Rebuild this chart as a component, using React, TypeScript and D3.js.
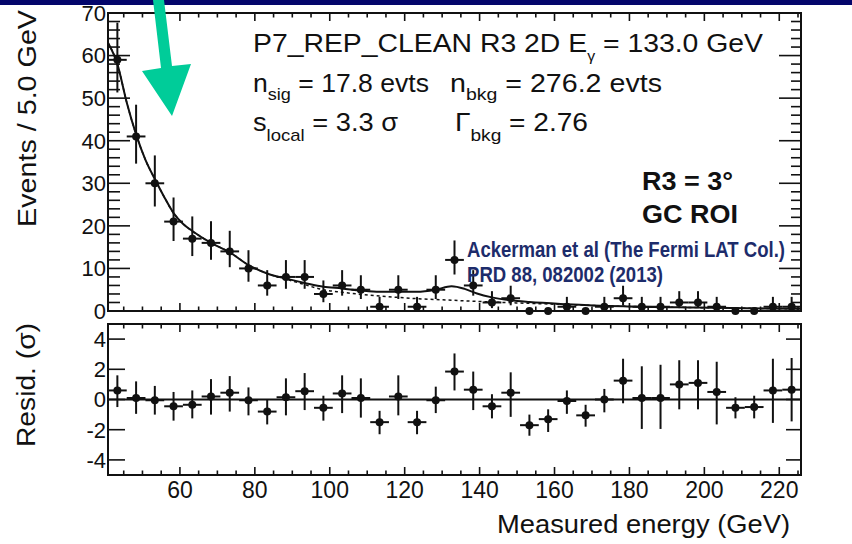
import React from 'react';
import * as d3 from 'd3';

// bin centres (GeV), 5 GeV bins
const energies = [
  43.3, 48.3, 53.3, 58.3, 63.3, 68.3, 73.3, 78.3, 83.3, 88.3, 93.3, 98.3, 103.3,
  108.3, 113.3, 118.3, 123.3, 128.3, 133.3, 138.3, 143.3, 148.3, 153.3, 158.3,
  163.3, 168.3, 173.3, 178.3, 183.3, 188.3, 193.3, 198.3, 203.3, 208.3, 213.3,
  218.3, 223.3,
];
const counts = [
  59, 41, 30, 21, 17, 16, 14, 10, 6, 8, 8, 4, 6, 5, 1, 5, 1, 5, 12, 6, 2, 3, 0, 0,
  1, 0, 1, 3, 1, 1, 2, 2, 1, 0, 0, 1, 1,
];

// residuals (sigma) and the ends of their error bars
const residVal = [
  0.6, 0.1, -0.05, -0.45, -0.35, 0.2, 0.45, -0.05, -0.8, 0.15, 0.55, -0.55, 0.4,
  0.1, -1.5, 0.2, -1.5, -0.05, 1.85, 0.65, -0.45, 0.45, -1.7, -1.3, -0.1, -1.05,
  0.0, 1.25, 0.1, 0.1, 1.0, 1.1, 0.5, -0.55, -0.5, 0.6, 0.65,
];
const residHi = [
  1.6, 1.2, 0.9, 0.5, 0.6, 1.35, 1.55, 0.8, 0.0, 1.4, 1.75, 0.25, 1.6, 1.4, -0.75,
  1.6, -0.75, 0.85, 3.05, 1.85, 0.35, 1.8, -1.0, -0.65, 0.6, -0.35, 0.7, 2.7, 2.2,
  2.3, 2.6, 2.6, 2.5, 0.15, 0.25, 2.7, 2.75,
];
const residLo = [
  -0.5, -0.95, -1.0, -1.4, -1.25, -1.0, -0.8, -1.05, -1.65, -1.05, -0.7, -1.4, -0.9,
  -1.2, -2.3, -1.05, -2.3, -0.9, 0.6, -0.7, -1.25, -1.15, -2.4, -2.15, -0.95, -1.8,
  -0.85, -0.25, -1.95, -1.95, -0.65, -0.65, -1.65, -1.25, -1.25, -1.55, -1.45,
];

// fitted model (signal + background) and background only
const fitE = [
  40.8, 43.3, 45.8, 48.3, 50.8, 53.3, 55.8, 58.3, 60.8, 63.3, 68.3, 73.3, 78.3, 83.3,
  88.3, 93.3, 98.3, 103.3, 108.3, 113.3, 118.3, 123.3, 128.3, 132.5, 136, 139.3,
  143.3, 148.3, 153.3, 163.3, 178.3, 198.3, 225.8,
];
const fitTotal = [
  63, 58, 49, 41.5, 35.5, 31, 26.8, 23, 20.5, 18.8, 16, 13.8, 10.8, 8.8, 7.6, 6.6,
  5.7, 5.3, 4.8, 4.5, 4.5, 4.5, 5.0, 5.8, 5.2, 4.1, 3.2, 2.5, 2.1, 1.6, 1.1, 0.8, 0.5,
];
const bkgE = [
  40.8, 43.3, 45.8, 48.3, 50.8, 53.3, 55.8, 58.3, 60.8, 63.3, 68.3, 73.3, 78.3, 83.3,
  88.3, 93.3, 98.3, 103.3, 108.3, 113.3, 118.3, 123.3, 128.3, 133.3, 138.3, 143.3,
  148.3, 153.3, 163.3, 178.3, 198.3, 225.8,
];
const fitBkg = [
  63, 58, 49, 41.5, 35.5, 31, 26.8, 23, 20.5, 18.8, 16, 13.8, 10.8, 8.8, 7.5, 6.2,
  5.0, 4.4, 3.9, 3.5, 3.2, 2.9, 2.7, 2.5, 2.3, 2.1, 1.95, 1.8, 1.5, 1.1, 0.8, 0.5,
];

const xTickLabels = [60, 80, 100, 120, 140, 160, 180, 200, 220];
const yTickLabels = [0, 10, 20, 30, 40, 50, 60, 70];
const residTickLabels = [-4, -2, 0, 2, 4];

const FONT = 'Liberation Sans, Arial, Helvetica, sans-serif';
const INK = '#111';

const x = d3.scaleLinear().domain([40.8, 225.8]).range([108, 801]);
const yTop = d3.scaleLinear().domain([0, 70]).range([311, 13]);
const yRes = d3.scaleLinear().domain([-5, 5]).range([475, 324]);

const halfBin = 2.5;
// Gehrels approximation of the Poisson 68% interval
const errUp = (n: number) => 1 + Math.sqrt(n + 0.75);
const errDn = (n: number) => Math.sqrt(Math.max(n - 0.25, 0));

const App: React.FC = () => {
  const xMinor = d3.range(45, 226, 5);
  const line = d3.line<number>().curve(d3.curveMonotoneX);

  const totalPath = line(fitE.map((e, i) => [x(e), yTop(fitTotal[i])] as any) as any);
  const bkgPath = line(bkgE.map((e, i) => [x(e), yTop(fitBkg[i])] as any) as any);

  const [x0, x1] = x.range();

  const xTicks = (yBase: number, dir: number, key: string) =>
    xMinor.map(v => {
      const major = v % 20 === 0;
      const len = major ? 8 : 4.5;
      return (
        <line key={key + v} x1={x(v)} x2={x(v)} y1={yBase} y2={yBase + dir * len}
          stroke={INK} strokeWidth={1.6} />
      );
    });

  return (
    <svg width={852} height={544} style={{ position: 'absolute', left: 0, top: 0, background: '#fff' }}
      fontFamily={FONT}>
      <rect x={0} y={0} width={852} height={544} fill="#fff" />
      <rect x={0} y={0} width={852} height={5} fill="#04066b" />

      {/* ---------- upper panel ---------- */}
      <g>
        {d3.range(0, 71, 2).map(v => {
          const major = v % 10 === 0;
          return (
            <g key={'yt' + v}>
              <line x1={x0} x2={x0 + (major ? 22 : 12)} y1={yTop(v)} y2={yTop(v)} stroke={INK} strokeWidth={1.6} />
              <line x1={x1} x2={x1 - (major ? 22 : 10)} y1={yTop(v)} y2={yTop(v)} stroke={INK} strokeWidth={1.6} />
            </g>
          );
        })}
        {xTicks(yTop.range()[1], 1, 'tt')}
        {xTicks(yTop.range()[0], -1, 'tb')}
        {yTickLabels.map(v => (
          <text key={'yl' + v} x={106} y={yTop(v)} dy="0.36em" textAnchor="end" fontSize={22} fill={INK}>{v}</text>
        ))}

        <path d={bkgPath || ''} fill="none" stroke={INK} strokeWidth={1.5} strokeDasharray="3,3" />
        <path d={totalPath || ''} fill="none" stroke={INK} strokeWidth={2} />

        {energies.map((e, i) => {
          const n = counts[i];
          const cx = x(e);
          const cy = yTop(n);
          if (n === 0) return <circle key={'p' + i} cx={cx} cy={cy} r={4} fill={INK} />;
          return (
            <g key={'p' + i}>
              <line x1={cx} x2={cx} y1={yTop(n + errUp(n))} y2={yTop(Math.max(n - errDn(n), 0))} stroke={INK} strokeWidth={2} />
              <line x1={x(e - halfBin)} x2={x(e + halfBin)} y1={cy} y2={cy} stroke={INK} strokeWidth={2} />
              <circle cx={cx} cy={cy} r={4} fill={INK} />
            </g>
          );
        })}

        <rect x={x0} y={13} width={x1 - x0} height={311 - 13} fill="none" stroke={INK} strokeWidth={2} />
      </g>

      {/* ---------- residual panel ---------- */}
      <g>
        {residTickLabels.map(v => (
          <g key={'rt' + v}>
            <line x1={x0} x2={x0 + 17} y1={yRes(v)} y2={yRes(v)} stroke={INK} strokeWidth={1.6} />
            <line x1={x1} x2={x1 - 15} y1={yRes(v)} y2={yRes(v)} stroke={INK} strokeWidth={1.6} />
            <text x={106} y={yRes(v)} dy="0.36em" textAnchor="end" fontSize={22} fill={INK}>{v}</text>
          </g>
        ))}
        {xTicks(324, 1, 'bt')}
        {xTicks(475, -1, 'bb')}
        <line x1={x0} x2={x1} y1={yRes(0)} y2={yRes(0)} stroke={INK} strokeWidth={2} />

        {energies.map((e, i) => {
          const cx = x(e);
          const cy = yRes(residVal[i]);
          return (
            <g key={'r' + i}>
              <line x1={cx} x2={cx} y1={yRes(residHi[i])} y2={yRes(residLo[i])} stroke={INK} strokeWidth={2} />
              <line x1={x(e - halfBin)} x2={x(e + halfBin)} y1={cy} y2={cy} stroke={INK} strokeWidth={2} />
              <circle cx={cx} cy={cy} r={4} fill={INK} />
            </g>
          );
        })}

        <rect x={x0} y={324} width={x1 - x0} height={475 - 324} fill="none" stroke={INK} strokeWidth={2} />

        {xTickLabels.map(v => (
          <text key={'xl' + v} x={x(v)} y={498} textAnchor="middle" fontSize={23} fill={INK}>{v}</text>
        ))}
      </g>

      {/* ---------- axis titles ---------- */}
      <text x={790} y={533} textAnchor="end" fontSize={26} fill={INK} textLength={293} lengthAdjust="spacingAndGlyphs">
        Measured energy (GeV)
      </text>
      <text transform="translate(36,10) rotate(-90)" textAnchor="end" fontSize={26} fill={INK}
        textLength={217} lengthAdjust="spacingAndGlyphs">
        Events / 5.0 GeV
      </text>
      <text transform="translate(35,323) rotate(-90)" textAnchor="end" fontSize={26} fill={INK}
        textLength={124} lengthAdjust="spacingAndGlyphs">
        Resid. (σ)
      </text>

      {/* ---------- fit annotations ---------- */}
      <g fill={INK}>
        <text x={253} y={52} fontSize={25} textLength={510} lengthAdjust="spacingAndGlyphs">
          P7_REP_CLEAN R3 2D E<tspan fontSize={14} dy={9}>γ</tspan><tspan dy={-9}> = 133.0 GeV</tspan>
        </text>
        <text x={253} y={92} fontSize={25} textLength={176} lengthAdjust="spacingAndGlyphs">
          n<tspan fontSize={17} dy={8}>sig</tspan><tspan dy={-8}> = 17.8 evts</tspan>
        </text>
        <text x={450} y={92} fontSize={25} textLength={212} lengthAdjust="spacingAndGlyphs">
          n<tspan fontSize={17} dy={8}>bkg</tspan><tspan dy={-8}> = 276.2 evts</tspan>
        </text>
        <text x={253} y={131} fontSize={25} textLength={145} lengthAdjust="spacingAndGlyphs">
          s<tspan fontSize={17} dy={10}>local</tspan><tspan dy={-10}> = 3.3 σ</tspan>
        </text>
        <text x={455} y={131} fontSize={25} textLength={133} lengthAdjust="spacingAndGlyphs">
          Γ<tspan fontSize={17} dy={10}>bkg</tspan><tspan dy={-10}> = 2.76</tspan>
        </text>
        <text x={642} y={190} fontSize={25} fontWeight="bold" textLength={91} lengthAdjust="spacingAndGlyphs">R3 = 3°</text>
        <text x={642} y={223} fontSize={25} fontWeight="bold" textLength={96} lengthAdjust="spacingAndGlyphs">GC ROI</text>
      </g>
      <g fill="#1d2c6b" fontWeight="bold" fontFamily={'Liberation Sans Narrow, Arial Narrow, ' + FONT}>
        <text x={467} y={257} fontSize={22} textLength={318} lengthAdjust="spacingAndGlyphs">
          Ackerman et al (The Fermi LAT Col.)
        </text>
        <text x={467} y={282} fontSize={22} textLength={196} lengthAdjust="spacingAndGlyphs">
          PRD 88, 082002 (2013)
        </text>
      </g>

      {/* green arrow */}
      <polygon points="153,0 164,0 172,66 191,64 172,116 142,71 161,68" fill="#00cc99" />
    </svg>
  );
};

export default App;
